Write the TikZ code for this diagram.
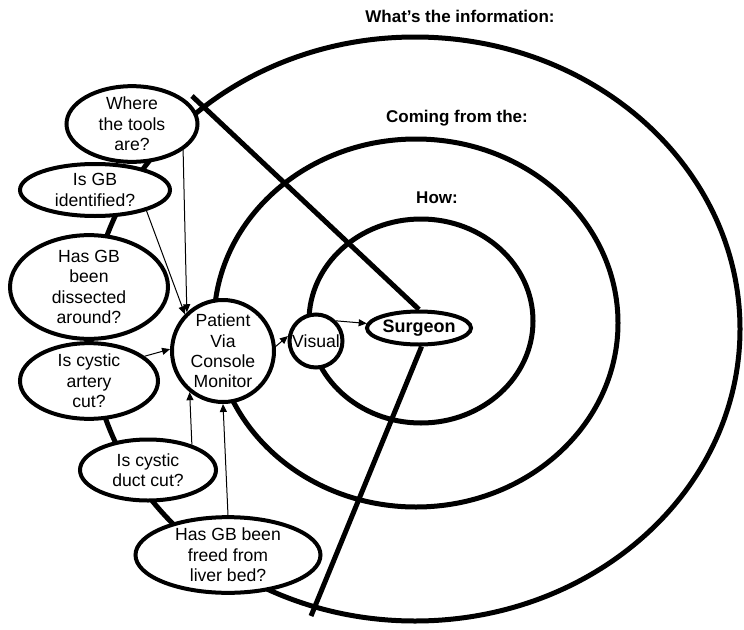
\documentclass[tikz,border=0pt]{standalone}
\usepackage{fontspec}
\setmainfont{Liberation Sans}
\usetikzlibrary{shapes.geometric,arrows.meta,backgrounds}
\begin{document}
\begin{tikzpicture}[x=1pt,y=-1pt,
  ring/.style={line width=5pt},
  spoke/.style={line width=5pt},
  qbox/.style={ellipse,draw,line width=4pt,fill=white,inner sep=0pt,align=center,
    font=\fontsize{17.6}{20.3}\selectfont},
  cbox/.style={circle,draw,line width=4pt,fill=white,inner sep=0pt,align=center,
    font=\fontsize{17.6}{20.3}\selectfont},
  head/.style={font=\bfseries\fontsize{17}{20}\selectfont},
  arr/.style={line width=1pt,-{Triangle[length=8pt,width=7pt]}}
]
\useasboundingbox (0,0) rectangle (744,629);

% nodes
\node[qbox,minimum width=131pt,minimum height=58pt] (tools) at (132,124) {Where\\the tools\\are?};
\node[qbox,minimum width=150pt,minimum height=52pt] (ident) at (95,190) {Is GB\\identified?};
\node[qbox,minimum width=158pt,minimum height=82pt] (dissect) at (89,287) {Has GB\\been\\dissected\\around?};
\node[qbox,minimum width=138pt,minimum height=68pt] (artery) at (89,381) {Is cystic\\artery\\cut?};
\node[qbox,minimum width=136pt,minimum height=61pt] (duct) at (148,470) {Is cystic\\duct cut?};
\node[qbox,minimum width=185pt,minimum height=66pt] (freed) at (228,555) {Has GB been\\freed from\\liver bed?};
\node[cbox,minimum size=102pt] (patient) at (223,351) {Patient\\Via\\Console\\Monitor};
\node[cbox,minimum size=53pt] (visual) at (316,341) {Visual};
\node[qbox,minimum width=104pt,minimum height=33pt,font=\bfseries\fontsize{18}{20}\selectfont] (surgeon) at (419,328) {Surgeon};

% headings
\node[head] (hwhat) at (460,16) {What’s the information:};
\node[head] (hcome) at (457,118) {Coming from the:};
\node[head] (hhow) at (437,198) {How:};

\coordinate (atop) at (192,96);
\coordinate (bbot) at (311,616);

\begin{scope}[on background layer]
\draw[ring] (415,329) ellipse [x radius=325pt, y radius=292pt];
\draw[ring] (416,323) ellipse [x radius=202pt, y radius=184pt];
\draw[ring] (421,321) ellipse [x radius=112pt, y radius=102pt];
\draw[spoke] (atop) -- (surgeon.north);
\draw[spoke] (surgeon.-82) -- (bbot);
\end{scope}

% arrows
\draw[arr] (tools.-27) -- (patient.133);
\draw[arr] (ident.-22) -- (patient.136);
\draw[arr] (artery.24) -- (patient.178);
\draw[arr] (duct.30) -- (patient.231);
\draw[arr] (freed.north) -- (patient.270);
\draw[arr] (patient.5) -- (visual.170);
\draw[arr] (visual.45) -- (surgeon.175);
\end{tikzpicture}
\end{document}
